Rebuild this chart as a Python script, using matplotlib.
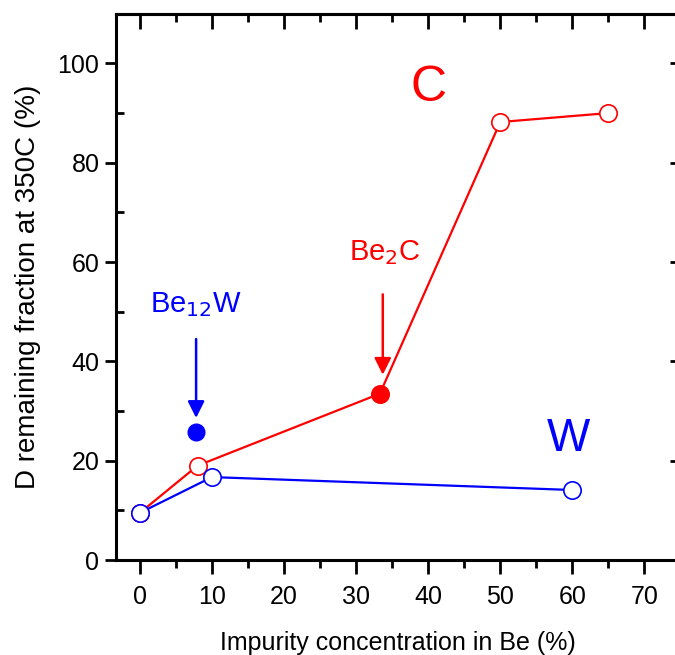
import matplotlib.pyplot as plt
from matplotlib.ticker import MultipleLocator, NullLocator

plt.rcParams['font.family'] = ['Liberation Sans', 'DejaVu Sans']

# C series (red)
c_x = [0, 8, 33.3, 50, 65]
c_y = [9.5, 19.0, 33.5, 88.2, 90.0]
c_filled = [False, False, True, False, False]

# W series (blue)
w_x = [0, 10, 60]
w_y = [9.5, 16.7, 14.1]

# Be12W point
be12w_x = [7.8]
be12w_y = [25.8]

fig = plt.figure(figsize=(6.75, 6.55), dpi=100)
# right edge runs just past the figure like in the original
ax = fig.add_axes([0.172, 0.145, 0.835, 0.834])

ax.plot(w_x, w_y, color='blue', lw=1.6, zorder=2)
ax.plot(c_x, c_y, color='red', lw=1.6, zorder=2)

for x, y, f in zip(c_x, c_y, c_filled):
    ax.plot(x, y, 'o', ms=12.5, mec='red', mew=1.2,
            mfc='red' if f else 'white', zorder=3)
for x, y in zip(w_x, w_y):
    ax.plot(x, y, 'o', ms=12.5, mec='blue', mew=1.2, mfc='white', zorder=3)
ax.plot(be12w_x, be12w_y, 'o', ms=12, mec='blue', mfc='blue', zorder=3)

# arrows
ax.annotate('', xy=(7.8, 28.6), xytext=(7.8, 44.5),
            arrowprops=dict(arrowstyle='-|>', color='blue', lw=1.8,
                            mutation_scale=25, shrinkA=0, shrinkB=0))
ax.annotate('', xy=(33.7, 37.3), xytext=(33.7, 53.5),
            arrowprops=dict(arrowstyle='-|>', color='red', lw=1.8,
                            mutation_scale=25, shrinkA=0, shrinkB=0))

ax.text(7.8, 48.5, 'Be$_{12}$W', color='blue', fontsize=21,
        ha='center', va='bottom')
ax.text(34, 59, 'Be$_2$C', color='red', fontsize=21,
        ha='center', va='bottom')
ax.text(40, 90.5, 'C', color='red', fontsize=36, ha='center', va='bottom')
ax.text(59.5, 20, 'W', color='blue', fontsize=33, ha='center', va='bottom')

ax.set_xlim(-3.3, 74.9)
ax.set_ylim(0, 110)
ax.xaxis.set_major_locator(MultipleLocator(10))
ax.xaxis.set_minor_locator(MultipleLocator(5))
ax.yaxis.set_major_locator(MultipleLocator(20))
ax.yaxis.set_minor_locator(MultipleLocator(10))
ax.tick_params(axis='x', which='both', direction='out', width=2,
               labelsize=18, pad=8)
ax.tick_params(axis='x', which='major', length=10)
ax.tick_params(axis='x', which='minor', length=6)
ax.tick_params(axis='y', which='major', direction='out', length=8,
               width=2, labelsize=18, pad=4)
ax.tick_params(axis='y', which='minor', direction='in', length=6, width=2)
for s in ax.spines.values():
    s.set_linewidth(2.2)

# top and right ticks point inward
top = ax.secondary_xaxis('top')
top.xaxis.set_major_locator(MultipleLocator(10))
top.xaxis.set_minor_locator(MultipleLocator(5))
top.tick_params(which='both', direction='in', width=2, labeltop=False)
top.tick_params(which='major', length=11)
top.tick_params(which='minor', length=6)
top.spines['top'].set_linewidth(2.2)

right = ax.secondary_yaxis('right')
right.yaxis.set_major_locator(MultipleLocator(20))
right.yaxis.set_minor_locator(NullLocator())
right.tick_params(which='major', direction='in', length=7, width=2,
                  labelright=False)
right.spines['right'].set_linewidth(2.2)

ax.set_xlabel('Impurity concentration in Be (%)', fontsize=18, labelpad=16)
ax.set_ylabel('D remaining fraction at 350C (%)', fontsize=20, labelpad=12)

fig.savefig('out.png', dpi=100)
